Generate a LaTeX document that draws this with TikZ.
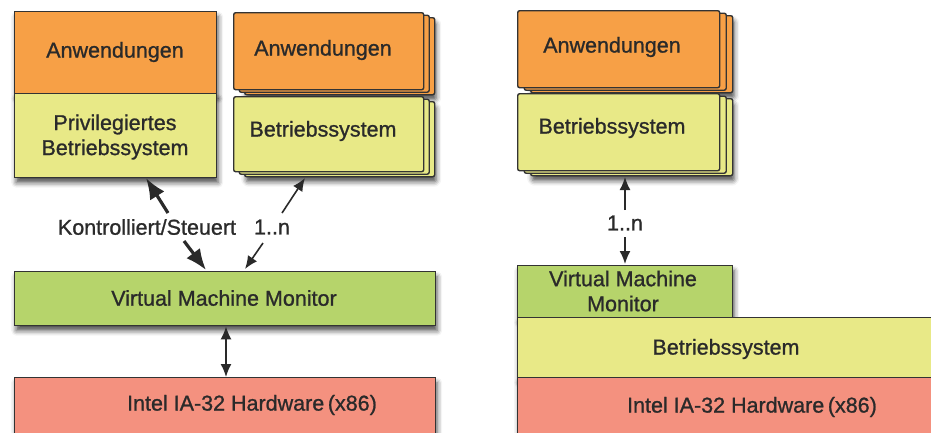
\documentclass[tikz,border=0pt]{standalone}
\usepackage{fontspec}
\setmainfont[FakeBold=1]{Liberation Sans}
\usetikzlibrary{shadows.blur,arrows.meta}

\definecolor{appfill}{HTML}{F7A046}
\definecolor{osfill}{HTML}{E8E987}
\definecolor{vmmfill}{HTML}{B6D46B}
\definecolor{hwfill}{HTML}{F4917F}
\definecolor{edge}{HTML}{333333}
\definecolor{ink}{HTML}{2A2A2A}

\tikzset{
  layer/.style={draw=edge, line width=1.4pt, inner sep=0pt, anchor=north west,
    minimum width=#1},
  softshadow/.style={blur shadow={shadow xshift=1.5pt, shadow yshift=-5pt,
    shadow blur radius=5pt, shadow opacity=70}},
  stacked/.style={rounded corners=2pt},
  label text/.style={font=\fontsize{21.5}{25}\selectfont, text=ink,
    inner sep=0pt, align=center},
  bigarrow/.style={draw=ink, line width=3.2pt, arrows={-Latex[length=21pt 0,width=17pt 0]}},
  thinarrow/.style={draw=ink, line width=1.6pt, arrows={-Latex[length=13pt 0,width=11pt 0]}},
  bothways/.style={draw=ink, line width=1.6pt,
    arrows={Latex[length=13pt 0,width=11pt 0]-Latex[length=13pt 0,width=11pt 0]}},
}

\begin{document}
\begin{tikzpicture}[x=1pt, y=-1pt]
\useasboundingbox (0,0) rectangle (931,432);
\clip (0,0) rectangle (931,432);

% ---------- left: hosted VMM with privileged OS ----------
\node[layer=202pt, minimum height=82pt, fill=appfill, softshadow] (appL) at (14,11) {};
\node[layer=202pt, minimum height=84pt, fill=osfill, softshadow] (privL) at (14,93) {};

% stacked guest applications
\node[layer=190pt, minimum height=77pt, fill=appfill, stacked, softshadow] (appS3) at (244,17) {};
\node[layer=190pt, minimum height=77pt, fill=appfill, stacked] (appS2) at (238.5,14.5) {};
\node[layer=190pt, minimum height=77pt, fill=appfill, stacked] (appS) at (233,12) {};
% stacked guest operating systems
\node[layer=190pt, minimum height=75pt, fill=osfill, stacked, softshadow] (osS3) at (244,101) {};
\node[layer=190pt, minimum height=75pt, fill=osfill, stacked] (osS2) at (238.5,98.5) {};
\node[layer=190pt, minimum height=75pt, fill=osfill, stacked] (osS) at (233,96) {};

\node[layer=421pt, minimum height=54pt, fill=vmmfill, softshadow] (vmmL) at (14,271) {};
\node[layer=421pt, minimum height=70pt, fill=hwfill, softshadow] (hwL) at (14,377) {};

\node[label text] (tAppL) at (115,52) {Anwendungen};
\node[label text] (tPrivL) at (115,137) {Privilegiertes\\Betriebssystem};
\node[label text] (tAppS) at (323,50) {Anwendungen};
\node[label text] (tOsS) at (323,131) {Betriebssystem};
\node[label text] (tCtrl) at (147,227) {Kontrolliert/Steuert};
\node[label text] (tMany) at (272,227) {1..n};
\node[label text] (tVmmL) at (224,298) {Virtual Machine Monitor};
\node[label text] (tHwL) at (252,405) {Intel IA-32 Hardware\,(x86)};

% connectors
\coordinate (c1a) at (168,213); \coordinate (c1b) at (146,178);
\coordinate (c2a) at (184,241); \coordinate (c2b) at (206,270);
\coordinate (m1a) at (282,213); \coordinate (m1b) at (305,178);
\coordinate (m2a) at (263,243); \coordinate (m2b) at (245,269);
\draw[bigarrow] (c1a) -- (c1b);
\draw[bigarrow] (c2a) -- (c2b);
\draw[thinarrow] (m1a) -- (m1b);
\draw[thinarrow] (m2a) -- (m2b);
\draw[bothways] (vmmL.south -| 226,0) -- (hwL.north -| 226,0);

% ---------- right: VMM running on a host OS ----------
\node[layer=202pt, minimum height=77pt, fill=appfill, stacked, softshadow] (appR3) at (530,15) {};
\node[layer=202pt, minimum height=77pt, fill=appfill, stacked] (appR2) at (523.5,12.5) {};
\node[layer=202pt, minimum height=77pt, fill=appfill, stacked] (appR) at (517,10) {};
\node[layer=202pt, minimum height=77pt, fill=osfill, stacked, softshadow] (osR3) at (530,98) {};
\node[layer=202pt, minimum height=77pt, fill=osfill, stacked] (osR2) at (523.5,95.5) {};
\node[layer=202pt, minimum height=77pt, fill=osfill, stacked] (osR) at (517,93) {};

\node[layer=215pt, minimum height=52pt, fill=vmmfill, softshadow] (vmmR) at (517,265) {};
\node[layer=430pt, minimum height=60pt, fill=osfill, softshadow] (osW) at (517,317) {};
\node[layer=430pt, minimum height=70pt, fill=hwfill, softshadow] (hwR) at (517,377) {};

\node[label text] (tAppR) at (612,47) {Anwendungen};
\node[label text] (tOsR) at (612,128) {Betriebssystem};
\node[label text] (tManyR) at (625,223) {1..n};
\node[label text] (tVmmR) at (623,291) {Virtual Machine\\Monitor};
\node[label text] (tOsW) at (726,349) {Betriebssystem};
\node[label text] (tHwR) at (752,407) {Intel IA-32 Hardware\,(x86)};

\coordinate (r1a) at (625,210); \coordinate (r1b) at (625,177);
\coordinate (r2a) at (625,237); \coordinate (r2b) at (625,264);
\draw[thinarrow] (r1a) -- (r1b);
\draw[thinarrow] (r2a) -- (r2b);
\end{tikzpicture}
\end{document}
